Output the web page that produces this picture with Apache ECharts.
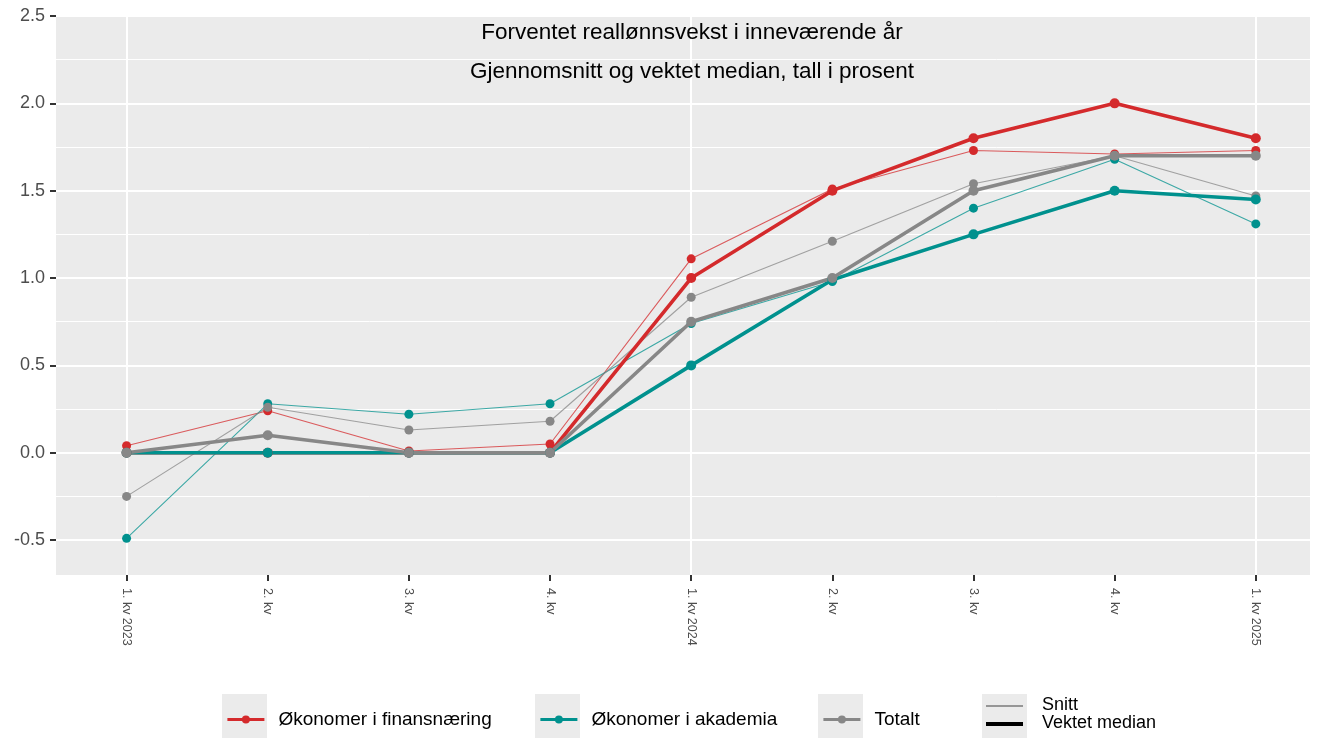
<!DOCTYPE html>
<html>
<head>
<meta charset="utf-8">
<script src="https://cdn.jsdelivr.net/npm/echarts@6/dist/echarts.min.js"></script>
<style>
html,body{margin:0;padding:0;background:#fff;}
#chart{width:1331px;height:738px;}
</style>
</head>
<body>
<div id="chart"></div>
<script>
// ---- Data ----
const quarters = ['1. kv 2023','2. kv','3. kv','4. kv','1. kv 2024','2. kv','3. kv','4. kv','1. kv 2025'];
const yTicks = [-0.5, 0, 0.5, 1, 1.5, 2, 2.5];
const finansSnitt   = [0.04, 0.24, 0.01, 0.05, 1.11, 1.51, 1.73, 1.71, 1.73];
const finansMedian  = [0, 0, 0, 0, 1.00, 1.50, 1.80, 2.00, 1.80];
const akademiaSnitt = [-0.49, 0.28, 0.22, 0.28, 0.74, 0.98, 1.40, 1.68, 1.31];
const akademiaMedian= [0, 0, 0, 0, 0.50, 0.99, 1.25, 1.50, 1.45];
const totaltSnitt   = [-0.25, 0.26, 0.13, 0.18, 0.89, 1.21, 1.54, 1.70, 1.47];
const totaltMedian  = [0, 0.10, 0, 0, 0.75, 1.00, 1.50, 1.70, 1.70];
const groupNames = ['Økonomer i finansnæring','Økonomer i akademia','Totalt'];
const titleLines = ['Forventet reallønnsvekst i inneværende år','Gjennomsnitt og vektet median, tall i prosent'];
const yearStarts = [0, 4, 8];
const majorY = [-0.5, 0, 0.5, 1, 1.5, 2, 2.5];
const minorY = [-0.25, 0.25, 0.75, 1.25, 1.75, 2.25];

const RED = '#D42A2C', TEAL = '#00918E', GREY = '#878787';
const FONT = 'Liberation Sans, Arial, sans-serif';

const chart = echarts.init(document.getElementById('chart'));
const toXY = arr => arr.map((v,i)=>[i,v]);

function thin(name, data, color){
  return {type:'line', name, data: toXY(data), z:3, symbol:'circle', symbolSize:9,
    lineStyle:{width:1.1, color, opacity:0.75}, itemStyle:{color}, emphasis:{disabled:true}, animation:false};
}
function thick(name, data, color){
  return {type:'line', name, data: toXY(data), z:4, symbol:'circle', symbolSize:10,
    lineStyle:{width:3.6, color}, itemStyle:{color}, emphasis:{disabled:true}, animation:false};
}

const gridLines = [];
majorY.forEach(v=>gridLines.push({yAxis:v, lineStyle:{width:2}}));
minorY.forEach(v=>gridLines.push({yAxis:v, lineStyle:{width:1}}));
yearStarts.forEach(v=>gridLines.push({xAxis:v, lineStyle:{width:2}}));

const legendBoxes = [222, 535, 818];
const legendColors = [RED, TEAL, GREY];
const legends = groupNames.map((n,i)=>({
  show:true, left: legendBoxes[i]+4, top: 710, padding:0, itemWidth:37, itemHeight:10,
  selectedMode:false,
  textStyle:{fontFamily:FONT, fontSize:19, color:'#000', padding:[0,0,0,9]},
  data:[{name:n, lineStyle:{width:2.8, color:legendColors[i], opacity:1}, itemStyle:{color:legendColors[i]}}]
}));

const option = {
  backgroundColor:'#fff',
  animation:false,
  grid:{left:56, right:21, top:16, bottom:163, show:true, backgroundColor:'#EBEBEB', borderWidth:0},
  xAxis:{type:'value', min:-0.5, max:8.384,
    axisLine:{show:false, onZero:false},
    splitLine:{show:false},
    axisTick:{show:true, customValues:[0,1,2,3,4,5,6,7,8], length:6, lineStyle:{color:'#333', width:2}},
    axisLabel:{show:true, customValues:[0,1,2,3,4,5,6,7,8], rotate:-90, margin:13,
      fontFamily:FONT, fontSize:12.5, color:'#4D4D4D',
      formatter: v => quarters[Math.round(v)]}
  },
  yAxis:{type:'value', min:-0.7, max:2.5,
    axisLine:{show:false, onZero:false}, splitLine:{show:false},
    axisTick:{show:true, customValues:yTicks, length:6, lineStyle:{color:'#333', width:2}},
    axisLabel:{show:true, customValues:yTicks, margin:11, fontFamily:FONT, fontSize:18, color:'#4D4D4D',
      formatter: v => v.toFixed(1)}
  },
  legend: legends,
  graphic:[
    ...legendBoxes.map(x=>({type:'rect', left:x, top:694, shape:{width:45, height:44}, style:{fill:'#EBEBEB'}, z:-1})),
    {type:'rect', left:982, top:694, shape:{width:45, height:44}, style:{fill:'#EBEBEB'}, z:-1},
    {type:'line', shape:{x1:986, y1:706, x2:1023, y2:706}, style:{stroke:'#7A7A7A', lineWidth:1.3}},
    {type:'line', shape:{x1:986, y1:724, x2:1023, y2:724}, style:{stroke:'#000', lineWidth:4}},
    {type:'text', x:1042, y:696, style:{text:'Snitt', font:'18px '+FONT, fill:'#000'}},
    {type:'text', x:1042, y:714, style:{text:'Vektet median', font:'18px '+FONT, fill:'#000'}},
    {type:'text', x:692, y:21, z:100, style:{text:titleLines[0], font:'22.5px '+FONT, fill:'#000', textAlign:'center'}},
    {type:'text', x:692, y:60, z:100, style:{text:titleLines[1], font:'22.5px '+FONT, fill:'#000', textAlign:'center'}}
  ],
  series:[
    {type:'line', name:'_grid', data:[], silent:true, z:1,
      markLine:{silent:true, z:1, symbol:'none', label:{show:false}, animation:false,
        lineStyle:{color:'#FFFFFF', type:'solid'}, data: gridLines}},
    thin(groupNames[0], finansSnitt, RED),
    thin(groupNames[1], akademiaSnitt, TEAL),
    thin(groupNames[2], totaltSnitt, GREY),
    thick(groupNames[0], finansMedian, RED),
    thick(groupNames[1], akademiaMedian, TEAL),
    thick(groupNames[2], totaltMedian, GREY)
  ]
};
chart.setOption(option);
</script>
</body>
</html>
